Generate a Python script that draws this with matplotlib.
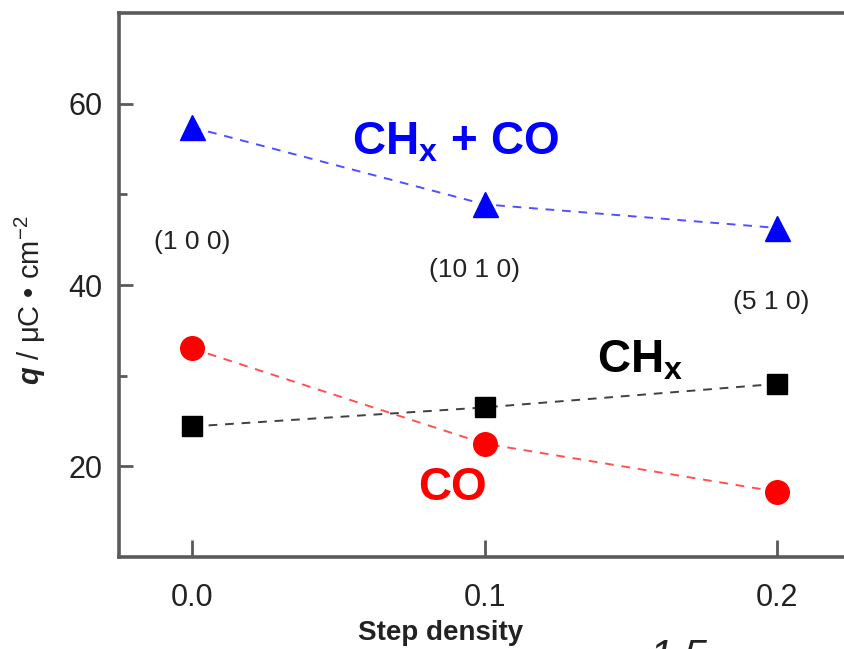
import matplotlib
matplotlib.use("Agg")
import matplotlib.pyplot as plt
from matplotlib.ticker import MultipleLocator

plt.rcParams['font.family'] = ['Liberation Sans', 'DejaVu Sans']
plt.rcParams['mathtext.fontset'] = 'custom'
plt.rcParams['mathtext.rm'] = 'Liberation Sans'
plt.rcParams['mathtext.it'] = 'Liberation Sans:italic:bold'
plt.rcParams['mathtext.bf'] = 'Liberation Sans:bold'

# data
step_density = [0.0, 0.1, 0.2]
q_total = [57.4, 48.9, 46.3]   # CHx + CO
q_chx = [24.4, 26.5, 29.1]
q_co = [33.0, 22.5, 17.2]
facets = ["(1 0 0)", "(10 1 0)", "(5 1 0)"]
facet_y = [44.75, 41.65, 38.1]
facet_x = [0.0, 0.0966, 0.198]

spine_color = "#5a5a5a"

fig = plt.figure(figsize=(8.45, 6.49), dpi=100)
ax = fig.add_axes([0.1408, 0.1418, 0.8592, 0.838])

dash = (4.5, 4)
ax.plot(step_density, q_total, color="#5050ff", lw=1.4, dashes=dash, zorder=2)
ax.plot(step_density, q_chx, color="#404040", lw=1.4, dashes=dash, zorder=2)
ax.plot(step_density, q_co, color="#ff5050", lw=1.4, dashes=dash, zorder=2)

ax.plot(step_density, q_total, ls="none", marker="^", ms=18, color="#0000ff", zorder=3)
ax.plot(step_density, q_chx, ls="none", marker="s", ms=14, color="black", zorder=3)
ax.plot(step_density, q_co, ls="none", marker="o", ms=17, color="#ff0000", zorder=3)

for label, fx, fy in zip(facets, facet_x, facet_y):
    ax.text(fx, fy, label, ha="center", va="center", fontsize=19, color="#222222")

ax.text(0.0547, 54.4, r"CH$_\mathbf{x}$ + CO", color="#0000ff", fontsize=33,
        fontweight="bold", ha="left", va="baseline")
ax.text(0.1385, 30.3, r"CH$_\mathbf{x}$", color="black", fontsize=33,
        fontweight="bold", ha="left", va="baseline")
ax.text(0.0773, 16.25, "CO", color="#ff0000", fontsize=33,
        fontweight="bold", ha="left", va="baseline")

ax.set_xlim(-0.025, 0.2232)
ax.set_ylim(10, 70)
ax.set_xticks(step_density)
ax.set_xticklabels(["0.0", "0.1", "0.2"])
ax.yaxis.set_major_locator(MultipleLocator(20))
ax.yaxis.set_minor_locator(MultipleLocator(10))
ax.set_yticks([20, 40, 60])
ax.set_yticks([30, 50], minor=True)

ax.tick_params(axis="both", which="both", direction="in", colors=spine_color,
               labelcolor="#222222", labelsize=22)
ax.tick_params(axis="x", which="major", length=12, width=2, pad=19)
ax.tick_params(axis="y", which="major", length=10, width=2, pad=12)
ax.tick_params(axis="y", which="minor", length=6, width=2)

for side in ["left", "bottom", "top"]:
    ax.spines[side].set_color(spine_color)
    ax.spines[side].set_linewidth(2.6)
ax.spines["right"].set_visible(False)

fig.text(30 / 845, 1 - 300 / 649, r"$q$ / μC • cm$^{-2}$", rotation=90,
         ha="center", va="center", fontsize=21, color="#222222")
fig.text(441 / 845, 1 - 633 / 649, "Step density", ha="center", va="center",
         fontsize=20, fontweight="bold", color="#222222")
fig.text(650 / 845, 1 - 638 / 649, "1.5", ha="left", va="top", fontsize=30,
         fontstyle="italic", color="#222222")

fig.savefig("out.png", dpi=100)
